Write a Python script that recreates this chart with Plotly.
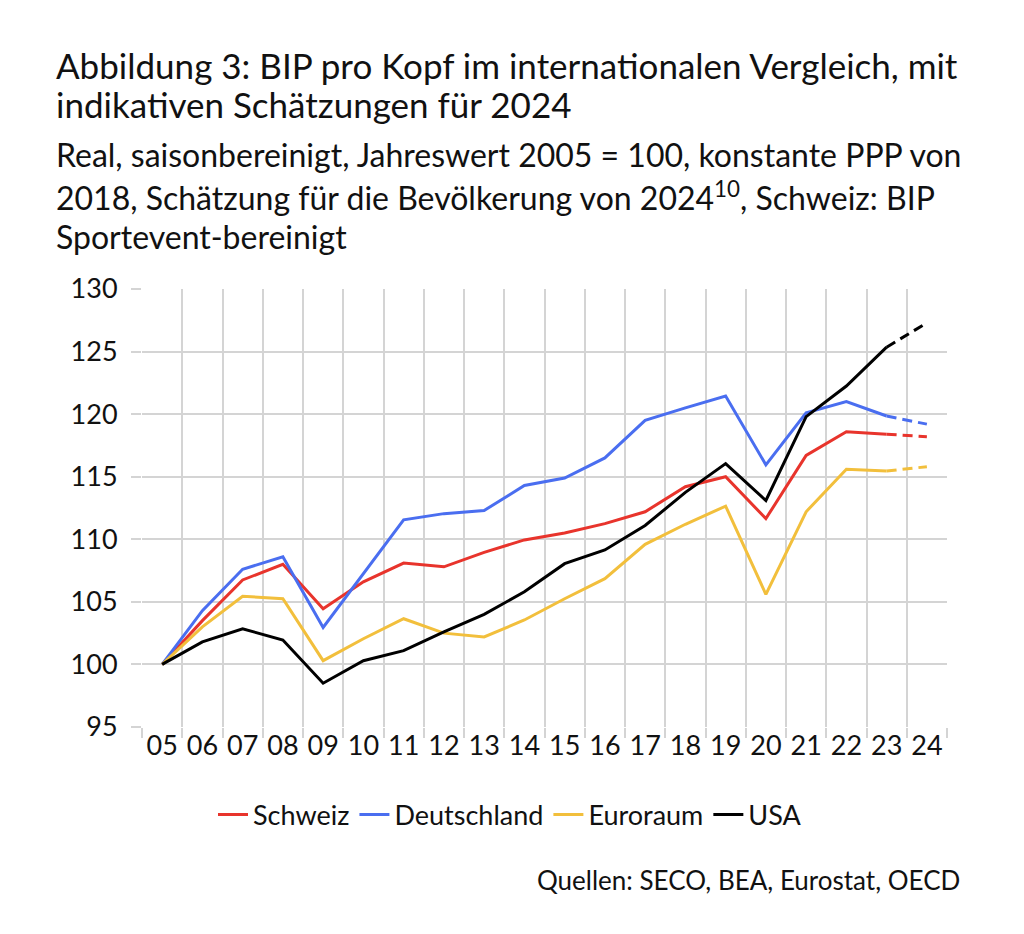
import plotly.graph_objects as go

years = ["05", "06", "07", "08", "09", "10", "11", "12", "13", "14",
         "15", "16", "17", "18", "19", "20", "21", "22", "23", "24"]

schweiz = [100.0, 103.5, 106.75, 108.0, 104.45, 106.6, 108.1, 107.8, 108.95, 109.95,
           110.5, 111.25, 112.2, 114.2, 115.0, 111.65, 116.7, 118.6, 118.4, 118.2]
deutschland = [100.0, 104.3, 107.6, 108.6, 102.95, 107.25, 111.55, 112.05, 112.3, 114.3,
               114.9, 116.5, 119.5, 120.5, 121.45, 115.95, 120.1, 121.0, 119.85, 119.2]
euroraum = [100.0, 103.0, 105.45, 105.25, 100.3, 102.05, 103.65, 102.5, 102.2, 103.55,
            105.25, 106.85, 109.6, 111.2, 112.65, 105.6, 112.2, 115.6, 115.45, 115.8]
usa = [100.0, 101.8, 102.85, 101.95, 98.5, 100.3, 101.1, 102.6, 104.0, 105.8,
       108.05, 109.15, 111.1, 113.75, 116.05, 113.1, 119.8, 122.25, 125.35, 127.3]

series_names = ["Schweiz", "Deutschland", "Euroraum", "USA"]
series_values = [schweiz, deutschland, euroraum, usa]
colors = ["#E8342C", "#4A6EF0", "#F2BF3C", "#000000"]

FONT = "Lato"
fig = go.Figure()
n_solid = len(years) - 1  # last year is an estimate -> dashed
for name, vals, col in zip(series_names, series_values, colors):
    fig.add_trace(go.Scatter(x=years[:n_solid], y=vals[:n_solid], mode="lines", name=name,
                             line=dict(color=col, width=3)))
for name, vals, col in zip(series_names, series_values, colors):
    fig.add_trace(go.Scatter(x=years[n_solid - 1:], y=vals[n_solid - 1:], mode="lines",
                             showlegend=False, line=dict(color=col, width=3, dash="10px,6px")))

O = 8  # page body margin
W, H = 1024 - 2 * O, 934 - 2 * O
L, R, T, B = 142 - O, 947 - O, 289 - O, 727 - O


def px(x):
    return (x - O - L) / (R - L)


def py(y):
    return (B - (y - O)) / (B - T)


annos = []
text_lines = [
    ("Abbildung 3: BIP pro Kopf im internationalen Vergleich, mit", 65, 35),
    ("indikativen Schätzungen für 2024", 104, 35),
    ("Real, saisonbereinigt, Jahreswert 2005 = 100, konstante PPP von", 155, 32),
    ("2018, Schätzung für die Bevölkerung von 2024<sup>10</sup>, Schweiz: BIP", 196, 32),
    ("Sportevent-bereinigt", 237, 32),
]
for txt, yy, fs in text_lines:
    annos.append(dict(text=txt, x=px(54), y=py(yy), xref="paper", yref="paper",
                      xanchor="left", yanchor="middle", showarrow=False,
                      font=dict(family=FONT, size=fs, color="#111111")))
annos.append(dict(text="Quellen: SECO, BEA, Eurostat, OECD", x=px(962), y=py(880),
                  xref="paper", yref="paper", xanchor="right", yanchor="middle",
                  showarrow=False, font=dict(family=FONT, size=26, color="#111111")))

grid = "#D4D4D4"
fig.update_layout(
    width=W, height=H,
    margin=dict(l=L, r=W - R, t=T, b=H - B),
    paper_bgcolor="white", plot_bgcolor="white",
    font=dict(family=FONT, size=27, color="#111111"),
    annotations=annos,
    showlegend=True,
    legend=dict(orientation="h", x=px(510), xanchor="center", y=py(815), yanchor="middle",
                font=dict(family=FONT, size=27, color="#111111"), itemwidth=30,
                traceorder="normal"),
    xaxis=dict(type="category", range=[-0.5, 19.5], tickson="boundaries",
               showgrid=True, gridcolor=grid, gridwidth=1.5,
               ticks="outside", ticklen=10, tickcolor=grid, tickwidth=1.5,
               showline=False, zeroline=False, fixedrange=True, tickangle=0,
               tickfont=dict(family=FONT, size=27, color="#111111")),
    yaxis=dict(range=[95, 130], dtick=5, tick0=95,
               showgrid=True, gridcolor=grid, gridwidth=1.5,
               ticks="outside", ticklen=10, tickcolor=grid, tickwidth=1.5,
               showline=False, zeroline=False, ticklabelstandoff=8,
               tickfont=dict(family=FONT, size=27, color="#111111")),
)

fig.write_html("out.html")
